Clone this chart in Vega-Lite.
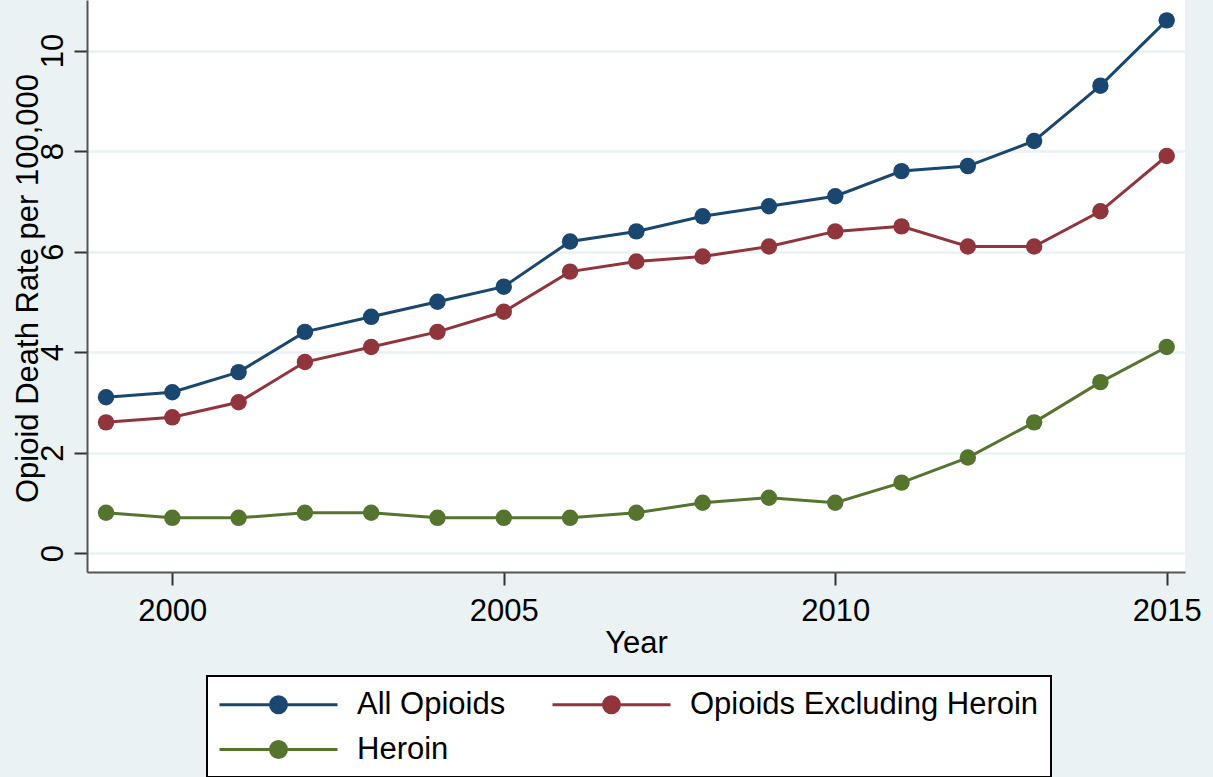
{
  "$schema": "https://vega.github.io/schema/vega-lite/v6.json",
  "width": 1098,
  "height": 572,
  "autosize": {"type": "none"},
  "padding": {"left": 87, "top": 0, "right": 28, "bottom": 205},
  "background": "#EAF2F3",
  "config": {
    "view": {"fill": "white", "stroke": null},
    "font": "Liberation Sans"
  },
  "data": {
    "values": [
      {"year": 1999, "series": "All Opioids", "rate": 3.1},
      {"year": 2000, "series": "All Opioids", "rate": 3.2},
      {"year": 2001, "series": "All Opioids", "rate": 3.6},
      {"year": 2002, "series": "All Opioids", "rate": 4.4},
      {"year": 2003, "series": "All Opioids", "rate": 4.7},
      {"year": 2004, "series": "All Opioids", "rate": 5.0},
      {"year": 2005, "series": "All Opioids", "rate": 5.3},
      {"year": 2006, "series": "All Opioids", "rate": 6.2},
      {"year": 2007, "series": "All Opioids", "rate": 6.4},
      {"year": 2008, "series": "All Opioids", "rate": 6.7},
      {"year": 2009, "series": "All Opioids", "rate": 6.9},
      {"year": 2010, "series": "All Opioids", "rate": 7.1},
      {"year": 2011, "series": "All Opioids", "rate": 7.6},
      {"year": 2012, "series": "All Opioids", "rate": 7.7},
      {"year": 2013, "series": "All Opioids", "rate": 8.2},
      {"year": 2014, "series": "All Opioids", "rate": 9.3},
      {"year": 2015, "series": "All Opioids", "rate": 10.6},
      {"year": 1999, "series": "Opioids Excluding Heroin", "rate": 2.6},
      {"year": 2000, "series": "Opioids Excluding Heroin", "rate": 2.7},
      {"year": 2001, "series": "Opioids Excluding Heroin", "rate": 3.0},
      {"year": 2002, "series": "Opioids Excluding Heroin", "rate": 3.8},
      {"year": 2003, "series": "Opioids Excluding Heroin", "rate": 4.1},
      {"year": 2004, "series": "Opioids Excluding Heroin", "rate": 4.4},
      {"year": 2005, "series": "Opioids Excluding Heroin", "rate": 4.8},
      {"year": 2006, "series": "Opioids Excluding Heroin", "rate": 5.6},
      {"year": 2007, "series": "Opioids Excluding Heroin", "rate": 5.8},
      {"year": 2008, "series": "Opioids Excluding Heroin", "rate": 5.9},
      {"year": 2009, "series": "Opioids Excluding Heroin", "rate": 6.1},
      {"year": 2010, "series": "Opioids Excluding Heroin", "rate": 6.4},
      {"year": 2011, "series": "Opioids Excluding Heroin", "rate": 6.5},
      {"year": 2012, "series": "Opioids Excluding Heroin", "rate": 6.1},
      {"year": 2013, "series": "Opioids Excluding Heroin", "rate": 6.1},
      {"year": 2014, "series": "Opioids Excluding Heroin", "rate": 6.8},
      {"year": 2015, "series": "Opioids Excluding Heroin", "rate": 7.9},
      {"year": 1999, "series": "Heroin", "rate": 0.8},
      {"year": 2000, "series": "Heroin", "rate": 0.7},
      {"year": 2001, "series": "Heroin", "rate": 0.7},
      {"year": 2002, "series": "Heroin", "rate": 0.8},
      {"year": 2003, "series": "Heroin", "rate": 0.8},
      {"year": 2004, "series": "Heroin", "rate": 0.7},
      {"year": 2005, "series": "Heroin", "rate": 0.7},
      {"year": 2006, "series": "Heroin", "rate": 0.7},
      {"year": 2007, "series": "Heroin", "rate": 0.8},
      {"year": 2008, "series": "Heroin", "rate": 1.0},
      {"year": 2009, "series": "Heroin", "rate": 1.1},
      {"year": 2010, "series": "Heroin", "rate": 1.0},
      {"year": 2011, "series": "Heroin", "rate": 1.4},
      {"year": 2012, "series": "Heroin", "rate": 1.9},
      {"year": 2013, "series": "Heroin", "rate": 2.6},
      {"year": 2014, "series": "Heroin", "rate": 3.4},
      {"year": 2015, "series": "Heroin", "rate": 4.1}
    ]
  },
  "mark": {"type": "line", "strokeWidth": 3, "point": {"filled": true, "size": 270, "opacity": 1}},
  "encoding": {
    "x": {
      "field": "year",
      "type": "quantitative",
      "scale": {"domain": [1998.713, 2015.276], "zero": false, "nice": false},
      "axis": {
        "values": [2000, 2005, 2010, 2015],
        "format": "d",
        "title": "Year",
        "grid": false,
        "labelFlush": false,
        "labelOverlap": false,
        "labelFontSize": 31,
        "labelColor": "black",
        "labelPadding": 11,
        "tickSize": 13,
        "tickColor": "#333333",
        "tickWidth": 2,
        "domainColor": "#555555",
        "domainWidth": 2,
        "titleFontSize": 31,
        "titleFontWeight": "normal",
        "titleColor": "black",
        "titleBaseline": "alphabetic",
        "titleY": 80,
        "titleX": 549
      }
    },
    "y": {
      "field": "rate",
      "type": "quantitative",
      "scale": {"domain": [-0.378, 11.005], "zero": false, "nice": false},
      "axis": {
        "values": [0, 2, 4, 6, 8, 10],
        "title": "Opioid Death Rate per 100,000",
        "grid": true,
        "gridColor": "#EAF2F3",
        "gridWidth": 2.5,
        "labelFlush": false,
        "labelOverlap": false,
        "labelAngle": 270,
        "labelAlign": "center",
        "labelBaseline": "alphabetic",
        "labelFontSize": 31,
        "labelColor": "black",
        "labelPadding": 12,
        "tickSize": 13,
        "tickColor": "#333333",
        "tickWidth": 2,
        "domainColor": "#555555",
        "domainWidth": 2,
        "titleFontSize": 31,
        "titleFontWeight": "normal",
        "titleColor": "black",
        "titleAngle": 270,
        "titleAlign": "center",
        "titleBaseline": "alphabetic",
        "titleX": -50,
        "titleY": 288
      }
    },
    "color": {
      "field": "series",
      "type": "nominal",
      "scale": {
        "domain": ["All Opioids", "Opioids Excluding Heroin", "Heroin"],
        "range": ["#1A476F", "#90353B", "#55752F"]
      },
      "legend": {
        "title": null,
        "orient": "none",
        "direction": "horizontal",
        "legendX": 120,
        "legendY": 676,
        "columns": 2,
        "columnPadding": 40,
        "rowPadding": 13,
        "padding": 12,
        "fillColor": "white",
        "strokeColor": "black",
        "labelFontSize": 31,
        "labelColor": "black",
        "labelLimit": 1000,
        "labelOffset": 105,
        "symbolType": "M-1.067,0L6.8,0M3.4,0A0.533,0.533,0,1,1,2.334,0A0.533,0.533,0,1,1,3.4,0Z",
        "symbolSize": 900,
        "symbolStrokeWidth": 3,
        "symbolOpacity": 1,
        "encode": {
          "symbols": {"update": {"fill": {"scale": "color", "field": "value"}, "stroke": {"scale": "color", "field": "value"}}},
          "legend": {"update": {"strokeWidth": {"value": 2}}}
        }
      }
    }
  }
}
